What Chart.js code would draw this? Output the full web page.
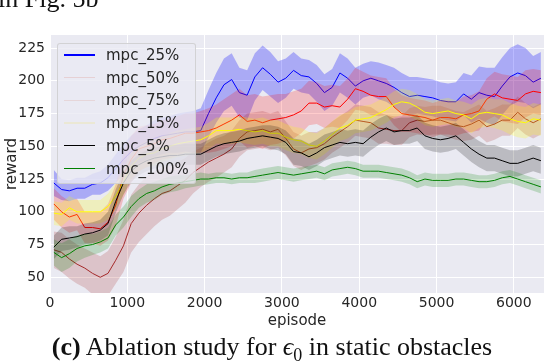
<!DOCTYPE html>
<html>
<head>
<meta charset="utf-8">
<script src="https://cdn.jsdelivr.net/npm/chart.js@4"></script>
<style>
  html, body { margin: 0; padding: 0; background: #fff; }
  #wrap { position: relative; width: 544px; height: 362px; overflow: hidden; }
  #chart { position: absolute; left: 0; top: 0; }
  .serif { position: absolute; font-family: "Liberation Serif", "Times New Roman", serif;
           font-size: 26px; line-height: 26px; color: #111; white-space: nowrap; }
  #legend { position: absolute; left: 57px; top: 43px; width: 139px; height: 141px;
            box-sizing: border-box; background: rgba(234,234,242,0.8);
            border: 1px solid rgba(204,204,204,0.8); border-radius: 3px;
            font-family: "DejaVu Sans", sans-serif; font-size: 15px; color: #262626; }
  .swatch { position: absolute; left: 6px; width: 31px; height: 1.4px; }
  .name { position: absolute; left: 48px; line-height: 18px; white-space: nowrap; }
</style>
</head>
<body>
<div id="wrap">
  <canvas id="chart" width="544" height="362"></canvas>
  <div class="serif" style="left:-2px; top:-14px;">in Fig. 5b</div>
  <div id="legend"></div>
  <div class="serif" style="left:0; width:544px; top:334px; text-align:center;">
    <b>(c)</b> Ablation study for <i>ϵ</i><sub style="font-size:18px; line-height:0;">0</sub> in static obstacles
  </div>
</div>
<script>
// ======================
// DATA
// ======================
const episodes = [
  50, 150, 250, 350, 450, 550, 650, 750, 850, 950,
  1050, 1150, 1250, 1350, 1450, 1550, 1650, 1750, 1850, 1950,
  2050, 2150, 2250, 2350, 2450, 2550, 2650, 2750, 2850, 2950,
  3050, 3150, 3250, 3350, 3450, 3550, 3650, 3750, 3850, 3950,
  4050, 4150, 4250, 4350, 4450, 4550, 4650, 4750, 4850, 4950,
  5050, 5150, 5250, 5350, 5450, 5550, 5650, 5750, 5850, 5950,
  6050, 6150, 6250, 6350
];

const xTicks = [0, 1000, 2000, 3000, 4000, 5000, 6000];
const yTicks = [50, 75, 100, 125, 150, 175, 200, 225];
const labels = ["mpc_25%", "mpc_50%", "mpc_75%", "mpc_15%", "mpc_5%", "mpc_100%"];

// mean reward per series
const mpc25 = [
  122, 117, 116, 118, 118, 121, 122, 126, 133, 140,
  146, 150, 153, 156, 158, 159, 160, 161, 161, 162,
  175, 187, 197, 201, 191, 189, 203, 210, 205, 199,
  202, 208, 204, 203, 198, 191, 195, 206, 202, 196,
  200, 202, 200, 198, 195, 191, 188, 189, 188, 187,
  185, 184, 184, 190, 186, 191, 189, 188, 196, 203,
  206, 204, 199, 202
];
const mpc50 = [
  106, 100, 96, 98, 88, 88, 87, 92, 105, 128,
  140, 148, 150, 152, 155, 156, 158, 160, 160, 161,
  162, 164, 167, 170, 174, 169, 170, 168, 170, 171,
  172, 174, 177, 183, 183, 180, 181, 180, 186, 194,
  192, 189, 188, 188, 180, 175, 174, 173, 172, 170,
  172, 172, 171, 174, 175, 177, 186, 190, 187, 186,
  185, 190, 192, 191
];
const mpc75 = [
  71, 69, 64, 60, 57, 53, 50, 53, 63, 74,
  91, 99, 105, 110, 114, 116, 120, 124, 130, 134,
  138, 141, 144, 148, 156, 161, 162, 163, 161, 163,
  156, 148, 145, 148, 149, 152, 157, 161, 165, 170,
  169, 168, 164, 163, 162, 162, 168, 170, 169, 170,
  170, 168, 166, 165, 167, 170, 165, 167, 170, 170,
  176, 171, 168, 171
];
const mpc15 = [
  99, 98, 103, 100, 100, 100, 100, 104, 112, 123,
  135, 141, 144, 145, 148, 150, 152, 153, 154, 155,
  158, 162, 162, 162, 163, 162, 161, 162, 160, 160,
  157, 155, 154, 151, 150, 154, 159, 164, 166, 170,
  171, 172, 175, 178, 182, 184, 183, 180, 176, 175,
  176, 177, 175, 174, 171, 175, 176, 175, 174, 171,
  169, 168, 171, 170
];
const mpc5 = [
  73, 79, 80, 81, 83, 84, 86, 91, 108, 122,
  131, 136, 139, 141, 142, 143, 143, 144, 144, 144,
  147, 150, 152, 153, 154, 156, 157, 158, 157, 156,
  153, 146, 145, 142, 145, 149, 151, 153, 152, 153,
  152, 157, 161, 164, 161, 162, 162, 164, 158, 156,
  155, 156, 158, 153, 148, 144, 141, 141, 139, 137,
  137, 139, 141, 139
];
const mpc100 = [
  69, 65, 68, 72, 74, 75, 77, 80, 90, 96,
  104, 110, 114, 116, 119, 121, 122, 123, 124, 125,
  125, 126, 126, 125, 126, 126, 127, 128, 129, 130,
  129, 128, 129, 130, 131, 129, 132, 133, 134, 133,
  131, 131, 131, 130, 129, 128, 126, 123, 125, 124,
  124, 124, 125, 125, 124, 123, 123, 124, 126, 127,
  125, 123, 121, 119
];

// half-width of the shaded band per series
const mpc25Spread = [
  10, 8, 8, 8, 8, 8, 9, 10, 11, 12,
  12, 13, 13, 14, 14, 14, 15, 15, 16, 17,
  18, 19, 20, 20, 19, 19, 18, 17, 17, 16,
  15, 14, 13, 13, 14, 14, 14, 15, 15, 14,
  13, 13, 14, 14, 15, 15, 15, 14, 14, 14,
  14, 14, 15, 16, 18, 20, 21, 22, 22, 22,
  22, 21, 20, 20
];
const mpc50Spread = [
  12, 12, 12, 12, 12, 12, 13, 14, 16, 18,
  18, 17, 16, 15, 15, 15, 15, 15, 15, 16,
  17, 18, 19, 20, 20, 20, 20, 20, 19, 19,
  18, 18, 17, 17, 16, 16, 16, 16, 16, 16,
  15, 15, 15, 14, 14, 14, 13, 13, 13, 13,
  13, 13, 13, 14, 14, 15, 16, 17, 18, 18,
  18, 18, 17, 17
];
const mpc75Spread = [
  14, 15, 15, 15, 15, 16, 16, 17, 18, 20,
  22, 22, 22, 21, 20, 19, 18, 17, 16, 15,
  15, 15, 14, 14, 14, 14, 14, 14, 14, 14,
  13, 13, 13, 13, 12, 12, 12, 12, 12, 12,
  12, 12, 12, 11, 11, 11, 11, 11, 11, 11,
  11, 11, 11, 11, 12, 12, 12, 12, 12, 12,
  12, 12, 12, 12
];
const mpc15Spread = [
  9, 9, 9, 9, 9, 9, 9, 10, 10, 10,
  10, 10, 10, 10, 10, 10, 10, 10, 10, 10,
  10, 10, 10, 10, 10, 10, 10, 10, 10, 10,
  10, 10, 10, 10, 10, 10, 10, 10, 10, 10,
  10, 10, 10, 10, 10, 10, 10, 10, 10, 10,
  10, 10, 10, 10, 11, 11, 11, 11, 12, 12,
  12, 12, 12, 12
];
const mpc5Spread = [
  9, 9, 9, 8, 8, 8, 8, 9, 9, 9,
  8, 8, 8, 8, 8, 8, 8, 8, 8, 8,
  8, 8, 8, 8, 8, 8, 8, 8, 9, 9,
  9, 10, 10, 10, 10, 10, 10, 10, 10, 10,
  10, 10, 10, 10, 10, 10, 10, 10, 10, 10,
  10, 10, 10, 10, 10, 10, 10, 10, 10, 10,
  10, 10, 10, 10
];
const mpc100Spread = [
  10, 11, 11, 10, 9, 8, 8, 8, 8, 8,
  8, 7, 7, 7, 6, 6, 6, 5, 5, 5,
  4, 4, 4, 4, 4, 4, 5, 5, 5, 5,
  5, 5, 5, 5, 5, 5, 5, 5, 5, 5,
  5, 5, 5, 5, 5, 5, 5, 5, 5, 5,
  5, 5, 5, 5, 5, 5, 5, 5, 5, 5,
  5, 5, 5, 5
];

// ======================
// STYLES
// ======================
const series = [
  { label: labels[0], mean: mpc25,  spread: mpc25Spread,  line: "#0000ff", band: "rgba(0,0,255,0.27)",   key: "#0000ff" },
  { label: labels[1], mean: mpc50,  spread: mpc50Spread,  line: "#ff0000", band: "rgba(255,0,0,0.2)",    key: "#e6d0d4" },
  { label: labels[2], mean: mpc75,  spread: mpc75Spread,  line: "#a52a2a", band: "rgba(165,42,42,0.2)",  key: "#e6d6d9" },
  { label: labels[3], mean: mpc15,  spread: mpc15Spread,  line: "#ffff00", band: "rgba(255,255,0,0.22)", key: "#ebe8d4" },
  { label: labels[4], mean: mpc5,   spread: mpc5Spread,   line: "#000000", band: "rgba(0,0,0,0.2)",      key: "#000000" },
  { label: labels[5], mean: mpc100, spread: mpc100Spread, line: "#008000", band: "rgba(0,128,0,0.2)",    key: "#008000" }
];

const pts = arr => arr.map((v, i) => ({ x: episodes[i], y: v }));

const datasets = [];
series.forEach((s, k) => {
  const bandOrder = 100 - 2 * k;
  datasets.push({
    label: s.label + " upper",
    data: pts(s.mean.map((v, i) => v + s.spread[i])),
    borderWidth: 0, borderColor: "transparent", pointRadius: 0,
    backgroundColor: s.band, fill: "+1", order: bandOrder
  });
  datasets.push({
    label: s.label + " lower",
    data: pts(s.mean.map((v, i) => v - s.spread[i])),
    borderWidth: 0, borderColor: "transparent", pointRadius: 0,
    fill: false, order: bandOrder
  });
  datasets.push({
    label: s.label,
    data: pts(s.mean),
    borderColor: s.line, borderWidth: 1, pointRadius: 0,
    fill: false, order: bandOrder - 1
  });
});

// ======================
// LEGEND (drawn over the data, like matplotlib)
// ======================
const legend = document.getElementById("legend");
series.forEach((s, k) => {
  const cy = 11 + k * 22.7;
  const sw = document.createElement("div");
  sw.className = "swatch";
  sw.style.top = (cy - 0.7) + "px";
  sw.style.backgroundColor = s.key;
  legend.appendChild(sw);
  const nm = document.createElement("div");
  nm.className = "name";
  nm.style.top = (cy - 9) + "px";
  nm.textContent = s.label;
  legend.appendChild(nm);
});

// ======================
// CHART
// ======================
const plotBg = {
  id: "plotBg",
  beforeDraw(chart) {
    const { ctx, chartArea: a } = chart;
    ctx.save();
    ctx.fillStyle = "#eaeaf2";
    ctx.fillRect(a.left, a.top, a.right - a.left, a.bottom - a.top);
    ctx.restore();
  }
};

const tickFont = { family: "DejaVu Sans", size: 14 };
const titleFont = { family: "DejaVu Sans", size: 15 };

new Chart(document.getElementById("chart"), {
  type: "line",
  data: { datasets },
  plugins: [plotBg],
  options: {
    responsive: false,
    animation: false,
    events: [],
    layout: { padding: { top: 35, right: 0, bottom: 0, left: 0 } },
    plugins: { legend: { display: false }, tooltip: { enabled: false } },
    elements: { line: { tension: 0 } },
    scales: {
      x: {
        type: "linear", min: 0, max: 6390,
        grid: { color: "#ffffff", lineWidth: 1, drawTicks: false },
        border: { display: false },
        ticks: { font: tickFont, color: "#262626", padding: 2, maxRotation: 0, callback: v => String(v) },
        title: { display: true, text: "episode", font: titleFont, color: "#262626", padding: { top: 0, bottom: 32 } },
        afterBuildTicks: s => { s.ticks = xTicks.map(v => ({ value: v })); },
        afterFit: s => { s.height = 69; }
      },
      y: {
        type: "linear", min: 38, max: 235,
        grid: { color: "#ffffff", lineWidth: 1, drawTicks: false },
        border: { display: false },
        ticks: { font: tickFont, color: "#262626", padding: 5, callback: v => String(v) },
        title: { display: true, text: "reward", font: titleFont, color: "#262626", padding: { top: 3, bottom: 0 } },
        afterBuildTicks: s => { s.ticks = yTicks.map(v => ({ value: v })); },
        afterFit: s => { s.width = 50; }
      }
    }
  }
});
</script>
</body>
</html>
